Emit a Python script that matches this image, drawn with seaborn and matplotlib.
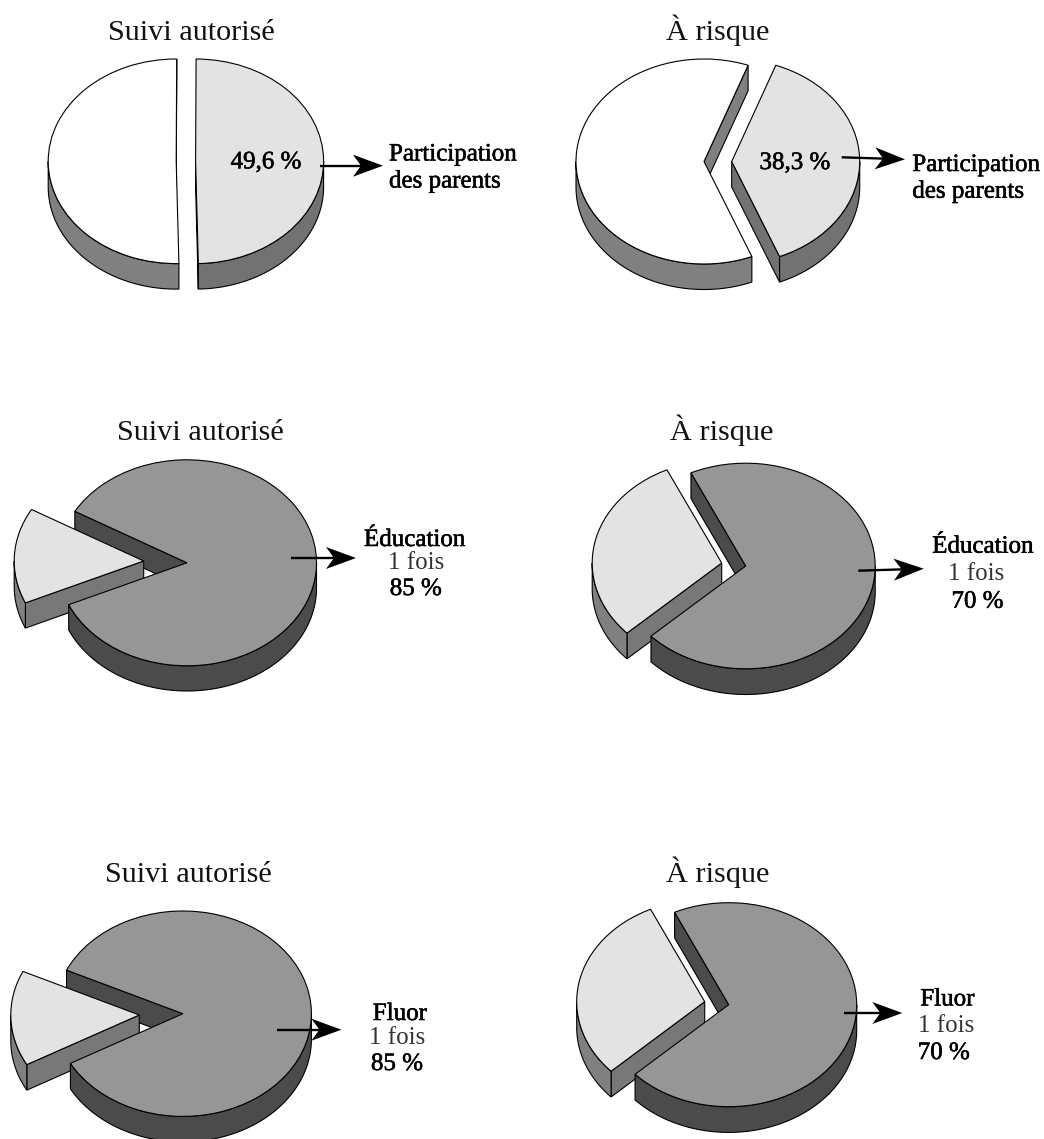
import matplotlib
matplotlib.use("Agg")
import matplotlib.pyplot as plt
import matplotlib.patheffects as pe
from matplotlib.transforms import Affine2D
import numpy as np
import seaborn as sns

# Shares per panel (percent): highlighted slice and the remainder
highlight_share = [49.6, 38.3, 15.0, 30.0, 15.0, 30.0]
remainder_share = [50.4, 61.7, 85.0, 70.0, 85.0, 70.0]
panel_titles = ["Suivi autorisé", "À risque"] * 3

# Layout: one row per pie, all lengths in figure pixels
title_xy = [(191, 39.5), (718, 39.5), (200, 439.5), (722, 439.5), (188, 882), (718, 882)]
rest_centre = [(176.2, 161.3), (704, 161.5), (187, 562.8), (745.7, 566), (182.9, 1013.7), (728.7, 1004.7)]
slice_centre = [(195.6, 161.3), (731.7, 161.5), (143.7, 561), (721.7, 563), (139.3, 1015), (704.7, 1001.7)]
slice_mid_angle = [0.5, 0.9, 177, 169, 181.9, 169]
radius_x = [128, 128, 129.5, 129.5, 128.5, 128]
radius_y = [102.3, 102.5, 103, 102.8, 102.7, 102]
depth = [25.5, 25.5, 25.2, 25.7, 25.5, 25.7]

arrow_tail = [(320, 165.7), (841.7, 157.3), (291, 558), (858.3, 570.7), (276.5, 1029.7), (844, 1013)]
arrow_tip = [(383, 165.7), (905, 159.3), (356, 558), (923.7, 568.7), (341.4, 1029.7), (902.3, 1013)]

# Annotation text: (string, x, baseline y, alignment, heavy)
annotations = [
    ("49,6 %", 266, 168.3, "center", True),
    ("Participation", 389, 160.5, "left", True),
    ("des parents", 389, 187.5, "left", True),
    ("38,3 %", 795, 169, "center", True),
    ("Participation", 912.3, 171, "left", True),
    ("des parents", 912.3, 197.7, "left", True),
    ("Éducation", 414.6, 546, "center", True),
    ("1 fois", 416.6, 569.3, "center", False),
    ("85 %", 415.8, 595, "center", True),
    ("Éducation", 982.8, 552.7, "center", True),
    ("1 fois", 976, 580, "center", False),
    ("70 %", 977.5, 607.7, "center", True),
    ("Fluor", 400, 1020, "center", True),
    ("1 fois", 397, 1044, "center", False),
    ("85 %", 397, 1070, "center", True),
    ("Fluor", 947.5, 1005.5, "center", True),
    ("1 fois", 946, 1031.7, "center", False),
    ("70 %", 943.8, 1059, "center", True),
]

sns.set_theme(style="white")
plt.rcParams["font.family"] = ["Liberation Serif", "DejaVu Serif"]

LIGHT, MID_A, MID_B, MID_C, DARK = sns.color_palette(
    ["#e3e3e3", "#969696", "#808080", "#727272", "#4b4b4b"]
)
EDGE = {"edgecolor": "black", "linewidth": 0.8}

W, H = 1044, 1139
fig = plt.figure(figsize=(W / 100, H / 100), dpi=100, facecolor="white")
ax = fig.add_axes([0, 0, 1, 1])


def spot(theta, cx, cy, rx, ry):
    t = np.radians(theta)
    return cx + rx * np.cos(t), cy - ry * np.sin(t)


def cut_faces(theta1, theta2, cx, cy, rx, ry, dz, colour, z):
    """Cut faces of a slice that turn towards the viewer."""
    for theta, outward in ((theta1, 1), (theta2, -1)):
        if outward * np.cos(np.radians(theta)) > 0:
            ex, ey = spot(theta, cx, cy, rx, ry)
            ax.fill([cx, ex, ex, cx], [cy, ey, ey + dz, cy + dz],
                    facecolor=colour, zorder=z, **EDGE)


def rim(theta1, theta2, cx, cy, rx, ry, dz, colour, z):
    """Front-facing part of the outer rim of a slice."""
    for k in range(-1, 3):
        lo = max(theta1, 180 + 360 * (k - 1))
        hi = min(theta2, 360 + 360 * (k - 1))
        if hi > lo:
            arc = np.linspace(lo, hi, 200)
            xs, ys = spot(arc, cx, cy, rx, ry)
            ax.fill(np.r_[xs, xs[::-1]], np.r_[ys, ys[::-1] + dz],
                    facecolor=colour, zorder=z, **EDGE)


for i in range(6):
    base = i * 10
    pale_panel = i < 2
    rest_top = "white" if pale_panel else MID_A
    rest_side = MID_B if pale_panel else DARK
    slice_cut = MID_C if pale_panel else (0.47, 0.47, 0.47)
    slice_rim = MID_C if pale_panel else MID_B

    rx, ry, dz = radius_x[i], radius_y[i], depth[i]
    sweep = 360 * highlight_share[i] / (highlight_share[i] + remainder_share[i])
    wedges, _ = ax.pie(
        [highlight_share[i], remainder_share[i]],
        startangle=slice_mid_angle[i] - sweep / 2,
        colors=[LIGHT, rest_top],
        radius=rx,
        wedgeprops=EDGE,
        labeldistance=None,
        frame=True,
    )
    hi_wedge, rest_wedge = wedges
    squash = ry / rx
    for wedge, (cx, cy) in ((hi_wedge, slice_centre[i]), (rest_wedge, rest_centre[i])):
        wedge.set_transform(Affine2D().scale(1, -squash).translate(cx, cy) + ax.transData)

    cx, cy = rest_centre[i]
    sx, sy = slice_centre[i]
    # The rear cut face of the larger part sits behind the pulled-out slice,
    # while its rim and top surface sit in front of it
    cut_faces(rest_wedge.theta1, rest_wedge.theta2, cx, cy, rx, ry, dz, rest_side, base + 1)
    cut_faces(hi_wedge.theta1, hi_wedge.theta2, sx, sy, rx, ry, dz, slice_cut, base + 2)
    rim(hi_wedge.theta1, hi_wedge.theta2, sx, sy, rx, ry, dz, slice_rim, base + 2)
    hi_wedge.set_zorder(base + 3)
    rim(rest_wedge.theta1, rest_wedge.theta2, cx, cy, rx, ry, dz, rest_side, base + 4)
    rest_wedge.set_zorder(base + 5)

    ax.text(title_xy[i][0], title_xy[i][1], panel_titles[i], fontsize=21.8,
            ha="center", va="baseline", color="#111111", zorder=100)

    # Callout arrow with a notched head
    (x0, y0), (x1, y1) = arrow_tail[i], arrow_tip[i]
    ux, uy = (x1 - x0), (y1 - y0)
    length = np.hypot(ux, uy)
    ux, uy = ux / length, uy / length
    nx, ny = -uy, ux
    head = np.array([
        (x1, y1),
        (x1 - 30 * ux + 11 * nx, y1 - 30 * uy + 11 * ny),
        (x1 - 22 * ux, y1 - 22 * uy),
        (x1 - 30 * ux - 11 * nx, y1 - 30 * uy - 11 * ny),
    ])
    ax.plot([x0, x1 - 20 * ux], [y0, y1 - 20 * uy], color="black", lw=1.7,
            solid_capstyle="butt", zorder=90)
    ax.fill(head[:, 0], head[:, 1], color="black", lw=0, zorder=91)

for label, x, y, align, heavy in annotations:
    t = ax.text(x, y, label, fontsize=18, ha=align, va="baseline", color="black", zorder=100)
    if heavy:
        t.set_path_effects([pe.withStroke(linewidth=0.4, foreground="black")])
    else:
        t.set_color("#333333")

ax.set_xlim(0, W)
ax.set_ylim(H, 0)
ax.axis("off")
fig.savefig("out.png", dpi=100, facecolor="white")
